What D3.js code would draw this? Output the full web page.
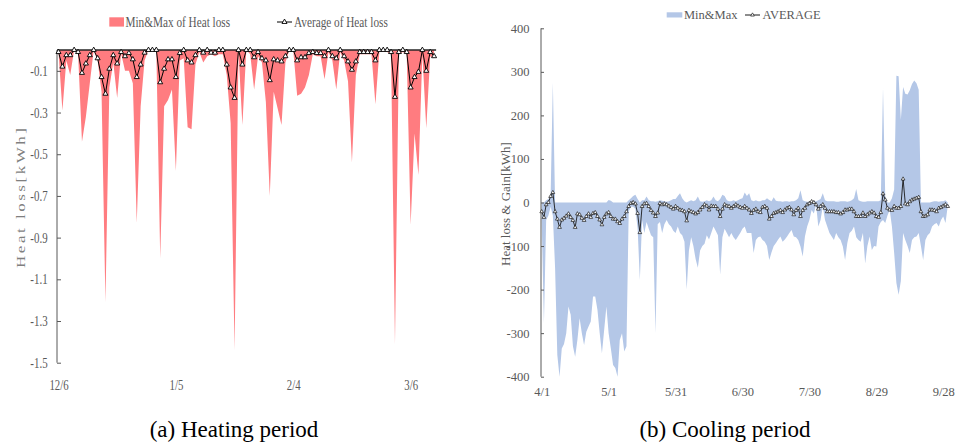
<!DOCTYPE html>
<html>
<head>
<meta charset="utf-8">
<script src="https://cdn.jsdelivr.net/npm/d3@7"></script>
<style>
  body { margin: 0; background: #fff; }
  svg { display: block; }
  svg text { font-family: "Liberation Serif", "Times New Roman", serif; }
</style>
</head>
<body>
<svg id="chart" width="965" height="448" font-family="Liberation Serif, serif"></svg>
<script>
// (a) heating period, daily values from 12/6
const heatTickLabels = ["12/6", "1/5", "2/4", "3/6"];
const heatYTicks = [-1.5, -1.3, -1.1, -0.9, -0.7, -0.5, -0.3, -0.1];
const heatAvg = [
  -0.01, -0.08, -0.025, -0.025, 0, -0.01, -0.11, -0.065, -0.025, 0,
  -0.04, -0.13, -0.21, -0.09, -0.025, -0.065, -0.01, -0.03, -0.015, -0.045,
  -0.13, -0.07, -0.013, 0, 0, 0, -0.155, -0.09, -0.045, -0.045,
  -0.13, -0.015, 0, -0.05, -0.06, -0.025, 0, -0.013, 0, -0.013,
  -0.013, 0, 0, -0.07, -0.18, -0.23, 0, -0.07, 0, 0,
  -0.035, -0.01, -0.04, -0.05, -0.145, -0.045, -0.05, -0.055, -0.03, 0,
  0, -0.05, -0.035, -0.035, -0.015, -0.01, -0.015, -0.015, -0.03, 0,
  -0.03, -0.04, 0, -0.03, -0.055, -0.095, -0.055, -0.01, -0.01, -0.01,
  -0.01, -0.05, 0, 0, 0, -0.01, -0.225, -0.01, 0, -0.01,
  -0.18, -0.13, -0.105, 0, -0.1, -0.01, -0.03
];
const heatMin = [
  -0.01, -0.29, -0.05, -0.12, 0, -0.015, -0.44, -0.32, -0.16, 0,
  -0.05, -0.2, -1.21, -0.18, -0.06, -0.23, -0.015, -0.1, -0.1, -0.16,
  -0.83, -0.27, -0.05, 0, 0, 0, -1.0, -0.27, -0.24, -0.19,
  -0.58, -0.05, -0.04, -0.37, -0.38, -0.07, -0.01, -0.06, -0.03, -0.02,
  -0.03, -0.02, -0.02, -0.12, -0.35, -1.44, -0.01, -0.36, 0, -0.02,
  -0.19, -0.03, -0.06, -0.25, -0.7, -0.2, -0.28, -0.36, -0.06, 0,
  0, -0.22, -0.21, -0.18, -0.12, -0.02, -0.03, -0.03, -0.14, -0.01,
  -0.05, -0.19, -0.01, -0.05, -0.15, -0.54, -0.12, -0.02, -0.02, -0.02,
  -0.02, -0.26, -0.01, -0.01, -0.01, -0.02, -1.41, -0.02, -0.01, -0.02,
  -0.84, -0.4, -0.6, -0.02, -0.375, -0.03, -0.04
];
const heatMax = [
  0, 0, 0, 0, 0, 0, 0, 0, 0, 0,
  0, 0, 0, 0, 0, 0, 0, 0, 0, 0,
  0, 0, 0, 0, 0, 0, 0, 0, 0, 0,
  0, 0, 0, 0, 0, 0, 0, 0, 0, 0,
  0, 0, 0, 0, 0, 0, 0, 0, 0, 0,
  0, 0, 0, 0, 0, 0, 0, 0, 0, 0,
  0, 0, 0, 0, 0, 0, 0, 0, 0, 0,
  0, 0, 0, 0, 0, 0, 0, 0, 0, 0,
  0, 0, 0, 0, 0, 0, 0, 0, 0, 0,
  0, 0, 0, 0, 0, 0, 0
];

// (b) cooling period, daily values from 4/1
const coolTickLabels = ["4/1", "5/1", "5/31", "6/30", "7/30", "8/29", "9/28"];
const coolYTicks = [-400, -300, -200, -100, 0, 100, 200, 300, 400];
const coolAvg = [
  -21, -34, -5, 0, 14, 23, -21, -38, -57, -40,
  -36, -31, -26, -34, -41, -57, -26, -28, -36, -41,
  -32, -26, -34, -25, -23, -32, -40, -51, -34, -26,
  -23, -32, -38, -38, -44, -48, -38, -32, -21, -9,
  -2, 0, -3, -25, -69, -9, -3, -2, -9, -18,
  -24, -32, -24, -2, -5, -3, -5, -8, -11, -15,
  -9, -13, -17, -18, -21, -42, -18, -21, -23, -26,
  -23, -17, -11, -5, -8, -17, -8, -9, -9, -15,
  -32, -15, -5, -8, -9, -13, -9, -5, -8, -11,
  -13, -9, -13, -17, -25, -18, -15, -21, -23, -11,
  -9, -13, -38, -32, -25, -23, -21, -18, -23, -17,
  -13, -11, -17, -28, -18, -13, -32, -18, -13, -5,
  -2, 2, 0, -5, -15, -9, -5, -13, -21, -21,
  -21, -21, -23, -23, -26, -23, -17, -17, -15, -15,
  -21, -32, -32, -32, -24, -32, -28, -24, -21, -24,
  -32, -34, -23, 20, 6, -13, -17, -18, -9, -13,
  -13, -9, 54, -3, -5, 2, 6, 8, 10, 12,
  -21, -32, -31, -28, -17, -17, -18, -21, -13, -11,
  -8, -5, -9
];
const coolMin = [
  -40, -277, -40, -30, -10, -30, -150, -350, -400, -335,
  -325, -300, -239, -258, -330, -354, -316, -266, -300, -327,
  -297, -285, -273, -216, -216, -247, -300, -346, -293, -239,
  -300, -335, -373, -380, -400, -316, -300, -342, -330, -20,
  -10, -10, -15, -60, -178, -40, -70, -45, -60, -75,
  -80, -300, -50, -45, -70, -50, -40, -50, -55, -65,
  -70, -55, -70, -75, -90, -200, -110, -80, -100, -130,
  -150, -110, -100, -95, -75, -85, -70, -55, -65, -75,
  -166, -80, -60, -70, -80, -70, -80, -86, -78, -70,
  -60, -55, -70, -70, -70, -116, -86, -80, -78, -86,
  -90, -100, -132, -115, -100, -93, -85, -78, -90, -85,
  -78, -70, -63, -78, -80, -86, -101, -124, -78, -55,
  -40, -17, -25, -5, -55, -40, -9, -40, -55, -70,
  -78, -86, -70, -80, -86, -101, -132, -93, -70, -65,
  -55, -80, -86, -90, -70, -140, -100, -78, -109, -100,
  -101, -55, -45, -40, -47, -30, -17, -55, -116, -185,
  -212, -180, -70, -86, -100, -116, -86, -80, -78, -70,
  -100, -132, -86, -75, -70, -55, -50, -47, -55, -40,
  -32, -47, -9
];
const coolMax = [
  0, 0, 5, 8, 15, 275, 0, 0, 0, 0,
  0, 0, 0, 0, 0, 0, 0, 0, 0, 0,
  0, 0, 0, 0, 0, 0, 0, 0, 0, 0,
  6, 4, 0, 0, 0, 0, 0, 0, 0, 5,
  10, 15, 18, 8, 0, 5, 5, 14, 5, 3,
  3, 2, 3, 5, 4, 3, 2, 3, 5, 8,
  8, 15, 21, 10, 3, 0, 3, 5, 3, 5,
  14, 3, 2, 3, 5, 3, 5, 14, 5, 3,
  8, 18, 15, 5, 3, 3, 5, 3, 5, 8,
  10, 23, 15, 21, 5, 3, 5, 3, 3, 5,
  5, 10, 6, 3, 12, 4, 3, 3, 2, 3,
  3, 2, 3, 3, 5, 10, 28, 5, 3, 2,
  2, 2, 3, 3, 5, 8, 21, 5, 3, 3,
  3, 3, 2, 2, 3, 3, 3, 2, 3, 5,
  10, 31, 5, 3, 2, 2, 3, 3, 3, 3,
  3, 3, 5, 263, 15, 0, 0, 10, 30, 291,
  290, 190, 265, 250, 248, 258, 272, 280, 274, 259,
  0, 0, 0, 0, 0, 2, 3, 3, 2, 3,
  3, 5, 0
];

const heatStart = new Date(2018, 11, 6);
const coolStart = new Date(2019, 3, 1);
const grey = "#595959";
const serif = "Liberation Serif, Times New Roman, serif";

const svg = d3.select("#chart");

// turn an "m/d" label into a date on or after the start
function labelDate(label, start) {
  const [m, d] = label.split("/").map(Number);
  let dt = new Date(start.getFullYear(), m - 1, d);
  if (dt < start) dt = new Date(start.getFullYear() + 1, m - 1, d);
  return dt;
}

function styleAxis(g) {
  g.attr("font-family", serif);
  g.select(".domain").attr("stroke", grey);
  g.selectAll(".tick line").attr("stroke", grey);
  g.selectAll(".tick text").attr("fill", grey);
}

function drawHeating() {
  const n = heatAvg.length;
  const days = d3.range(n);
  const x = d3.scaleTime()
    .domain([heatStart, d3.timeDay.offset(heatStart, n - 1)])
    .range([58.5, 434.1]);
  const y = d3.scaleLinear().domain([-1.5, 0]).range([362.7, 50]);
  const px = i => x(d3.timeDay.offset(heatStart, i));

  const g = svg.append("g");

  g.append("path")
    .datum(days)
    .attr("fill", "#ff7c80")
    .attr("d", d3.area()
      .x(px)
      .y0(i => y(heatMin[i]))
      .y1(i => y(heatMax[i])));

  g.append("line")
    .attr("x1", x.range()[0] - 1.5)
    .attr("x2", x.range()[1] + 2)
    .attr("y1", y(0))
    .attr("y2", y(0))
    .attr("stroke", "#262626")
    .attr("stroke-width", 1.3);

  const yAxis = g.append("g")
    .attr("transform", "translate(57,0)")
    .call(d3.axisLeft(y)
      .tickValues(heatYTicks)
      .tickSize(-4)
      .tickSizeOuter(0)
      .tickPadding(12)
      .tickFormat(d => d.toFixed(1)));
  yAxis.select(".domain").attr("d", `M0,${y(-1.5)}V${y(0)}`);
  yAxis.selectAll(".tick text")
    .attr("font-size", 14)
    .attr("transform", "scale(0.78,1)");
  styleAxis(yAxis);

  const xAxis = g.append("g")
    .attr("transform", "translate(0,379)")
    .call(d3.axisBottom(x)
      .tickValues(heatTickLabels.map(l => labelDate(l, heatStart)))
      .tickSize(0)
      .tickPadding(0)
      .tickFormat((d, i) => heatTickLabels[i]));
  xAxis.select(".domain").remove();
  xAxis.selectAll(".tick text")
    .attr("font-size", 15)
    .attr("transform", "scale(0.72,1)");
  styleAxis(xAxis);

  g.append("path")
    .datum(days)
    .attr("fill", "none")
    .attr("stroke", "#000")
    .attr("stroke-width", 1)
    .attr("d", d3.line().x(px).y(i => y(heatAvg[i])));

  const tri = d3.symbol().type(d3.symbolTriangle).size(11);
  g.selectAll(".heat-mark")
    .data(days)
    .join("path")
      .attr("class", "heat-mark")
      .attr("transform", i => `translate(${px(i)},${y(heatAvg[i])})`)
      .attr("d", tri)
      .attr("fill", "#fff")
      .attr("stroke", "#000")
      .attr("stroke-width", 0.9);

  g.append("text")
    .attr("transform", "translate(25,198) scale(0.75,1) rotate(-90)")
    .attr("text-anchor", "middle")
    .attr("font-family", serif)
    .attr("font-size", 17)
    .attr("fill", "#7f7f7f")
    .attr("textLength", 140)
    .attr("lengthAdjust", "spacing")
    .text("Heat loss[kWh]");

  // legend
  const lg = g.append("g").attr("font-family", serif);
  lg.append("rect")
    .attr("x", 109.3).attr("y", 17.3)
    .attr("width", 14.7).attr("height", 9.3)
    .attr("fill", "#ff7c80");
  lg.append("text")
    .attr("transform", "translate(125.5,27) scale(0.75,1)")
    .attr("font-size", 15)
    .attr("fill", grey)
    .text("Min&Max of Heat loss");
  lg.append("line")
    .attr("x1", 277).attr("x2", 292)
    .attr("y1", 22).attr("y2", 22)
    .attr("stroke", "#000");
  lg.append("path")
    .attr("transform", "translate(284.5,22)")
    .attr("d", tri)
    .attr("fill", "#fff")
    .attr("stroke", "#000")
    .attr("stroke-width", 0.9);
  lg.append("text")
    .attr("transform", "translate(294,27) scale(0.75,1)")
    .attr("font-size", 15)
    .attr("fill", grey)
    .text("Average of Heat loss");

  svg.append("text")
    .attr("x", 234).attr("y", 437)
    .attr("text-anchor", "middle")
    .attr("font-family", serif)
    .attr("font-size", 23)
    .attr("fill", "#000")
    .text("(a) Heating period");
}

function drawCooling() {
  const n = coolAvg.length;
  const days = d3.range(n);
  const x = d3.scaleTime()
    .domain([coolStart, d3.timeDay.offset(coolStart, n - 1)])
    .range([541.7, 947.7]);
  const y = d3.scaleLinear().domain([-400, 400]).range([376.7, 28.3]);
  const px = i => x(d3.timeDay.offset(coolStart, i));

  const g = svg.append("g");

  g.append("path")
    .datum(days)
    .attr("fill", "#b4c7e7")
    .attr("d", d3.area()
      .x(px)
      .y0(i => y(coolMin[i]))
      .y1(i => y(coolMax[i])));

  const yAxis = g.append("g")
    .attr("transform", "translate(541,0)")
    .call(d3.axisLeft(y)
      .tickValues(coolYTicks)
      .tickSize(-3)
      .tickSizeOuter(0)
      .tickPadding(11.5)
      .tickFormat(d => String(d)));
  yAxis.select(".domain").attr("d", `M0,${y(-400)}V${y(400)}`);
  yAxis.selectAll(".tick text").attr("font-size", 12.5);
  styleAxis(yAxis);

  const xAxis = g.append("g")
    .attr("transform", "translate(0,387)")
    .call(d3.axisBottom(x)
      .tickValues(coolTickLabels.map(l => labelDate(l, coolStart)))
      .tickSize(0)
      .tickPadding(0)
      .tickFormat((d, i) => coolTickLabels[i]));
  xAxis.select(".domain").remove();
  xAxis.selectAll(".tick text").attr("font-size", 12.5);
  styleAxis(xAxis);

  g.append("path")
    .datum(days)
    .attr("fill", "none")
    .attr("stroke", "#1a1a1a")
    .attr("stroke-width", 0.9)
    .attr("d", d3.line().x(px).y(i => y(coolAvg[i])));

  const tri = d3.symbol().type(d3.symbolTriangle).size(6);
  g.selectAll(".cool-mark")
    .data(days)
    .join("path")
      .attr("class", "cool-mark")
      .attr("transform", i => `translate(${px(i)},${y(coolAvg[i])})`)
      .attr("d", tri)
      .attr("fill", "#fff")
      .attr("stroke", "#1a1a1a")
      .attr("stroke-width", 0.7);

  g.append("text")
    .attr("transform", "translate(510,204) rotate(-90)")
    .attr("text-anchor", "middle")
    .attr("font-family", serif)
    .attr("font-size", 13)
    .attr("fill", grey)
    .text("Heat loss & Gain[kWh]");

  // legend
  const lg = g.append("g").attr("font-family", serif);
  lg.append("rect")
    .attr("x", 666.7).attr("y", 12.3)
    .attr("width", 15.6).attr("height", 5.2)
    .attr("fill", "#b4c7e7");
  lg.append("text")
    .attr("x", 684).attr("y", 19)
    .attr("font-size", 12.5)
    .attr("fill", grey)
    .text("Min&Max");
  lg.append("line")
    .attr("x1", 745).attr("x2", 760)
    .attr("y1", 15).attr("y2", 15)
    .attr("stroke", "#1a1a1a");
  lg.append("path")
    .attr("transform", "translate(752.5,15)")
    .attr("d", tri)
    .attr("fill", "#fff")
    .attr("stroke", "#1a1a1a")
    .attr("stroke-width", 0.7);
  lg.append("text")
    .attr("x", 762.5).attr("y", 19)
    .attr("font-size", 12.5)
    .attr("fill", grey)
    .text("AVERAGE");

  svg.append("text")
    .attr("x", 725).attr("y", 437)
    .attr("text-anchor", "middle")
    .attr("font-family", serif)
    .attr("font-size", 23)
    .attr("fill", "#000")
    .text("(b) Cooling period");
}

drawHeating();
drawCooling();
</script>
</body>
</html>
